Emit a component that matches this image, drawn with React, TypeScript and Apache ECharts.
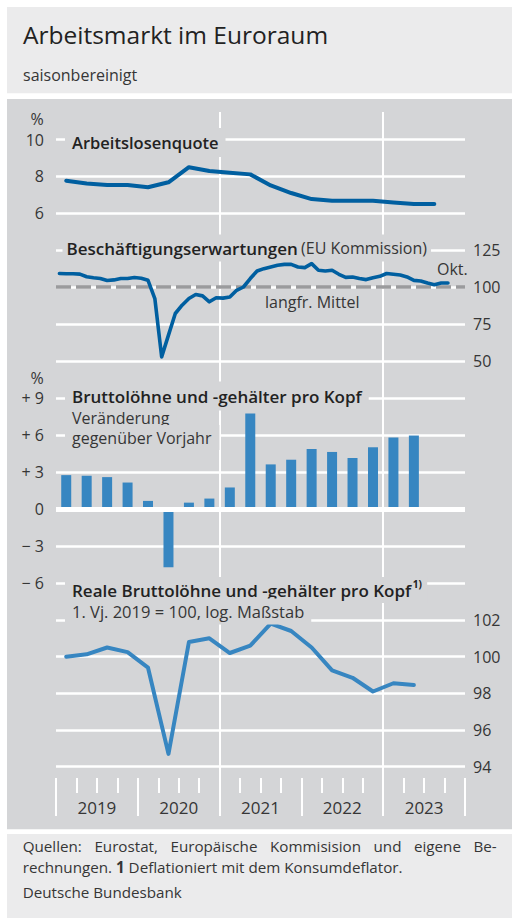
import React, { useEffect, useRef } from "react";
import * as echarts from "echarts";

// ---------- data ----------
const years = ["2019", "2020", "2021", "2022", "2023"];
// quarterly, Q1 2019 .. Q3 2023 (%)
const unemploymentRate = [7.77, 7.62, 7.53, 7.53, 7.41, 7.68, 8.5, 8.29, 8.2, 8.11, 7.51, 7.1, 6.77, 6.68, 6.68, 6.68, 6.59, 6.5, 6.5];
// monthly, Jan 2019 .. Oct 2023 (index, long-term mean = 100)
const employmentExpectations = [
  109.1, 109.0, 109.0, 108.7, 106.9, 106.2, 105.7, 104.4, 104.8, 105.7, 105.7, 106.4,
  105.9, 104.5, 92.2, 52.8, 67.5, 82.1, 87.7, 92.2, 94.9, 94.0, 90.0, 92.7,
  92.5, 93.2, 97.8, 100.0, 105.7, 110.8, 112.4, 113.5, 114.7, 115.3, 115.3, 113.5,
  113.1, 115.8, 111.3, 110.8, 111.3, 108.6, 106.5, 106.8, 105.7, 105.0, 106.3, 107.2,
  109.1, 108.6, 108.1, 106.8, 104.5, 104.1, 102.7, 101.6, 102.7, 102.7,
];
const longTermMean = 100;
// quarterly, Q1 2019 .. Q2 2023, change on previous year (%)
const wageGrowth = [2.77, 2.72, 2.61, 2.17, 0.68, -4.7, 0.54, 0.87, 1.77, 7.77, 3.64, 4.02, 4.89, 4.65, 4.16, 5.03, 5.82, 5.98];
// quarterly, Q1 2019 .. Q2 2023, Q1 2019 = 100
const realWages = [100.0, 100.13, 100.5, 100.25, 99.4, 94.7, 100.8, 101.0, 100.2, 100.6, 101.8, 101.4, 100.5, 99.25, 98.85, 98.1, 98.55, 98.45];
// months since Jan 2019 where vertical guide lines are drawn
const guideMonths = [24, 48];

// axis ranges [min, max, interval]
const unemploymentAxis = [6, 10, 2];
const expectationsAxis = [50, 125, 25];
const wageGrowthAxis = [-6, 9, 3];
const realWagesAxis = [94, 102, 2];

const sourceLine1 = ["Quellen:", "Eurostat,", "Europäische", "Kommisision", "und", "eigene", "Be-"];

// ---------- style ----------
const FONT = "'Open Sans', 'Noto Sans', sans-serif";
const TEXT = "#363636";
const DARK = "#222222";
const PANEL = "#d4d5d7";
const LIGHT = "#ebebec";
const DARK_BLUE = "#005fa0";
const MID_BLUE = "#3786c1";
const WHITE = "#ffffff";

const LEFT = 56;
const WIDTH = 409;
const FOOT_SIZE = 15.2;

const quarterX = (i: number) => 3 * i + 1.5;
const monthX = (i: number) => i + 0.5;

const tickLabel = { fontFamily: FONT, fontSize: 16, color: TEXT };

function measure(t: string, size: number, weight: any = "normal") {
  try {
    const el = new (echarts.graphic as any).Text({
      style: { text: t, fontFamily: FONT, fontSize: size, fontWeight: weight },
    });
    const w = el.getBoundingRect().width;
    if (w > 0) return w;
  } catch (e) {
    /* ignore */
  }
  return t.length * size * 0.52;
}

function buildOption() {
  const grids = [
    { left: LEFT, width: WIDTH, top: 139.5, height: 73.8 },
    { left: LEFT, width: WIDTH, top: 250, height: 111 },
    { left: LEFT, width: WIDTH, top: 398.3, height: 185 },
    { left: LEFT, width: WIDTH, top: 620, height: 146.7 },
    { left: LEFT, width: WIDTH, top: 112, height: 666 },
    { left: LEFT, width: WIDTH, top: 777, height: 1 },
    { left: LEFT, width: WIDTH, top: 777, height: 1 },
  ];

  const hiddenX = (g: number) => ({ type: "value", gridIndex: g, min: 0, max: 60, show: false });

  const valueY = (g: number, r: number[], position: string, margin: number, formatter?: any) => ({
    type: "value",
    gridIndex: g,
    min: r[0],
    max: r[1],
    interval: r[2],
    position,
    axisLine: { show: false },
    axisTick: { show: false },
    axisLabel: { ...tickLabel, margin, formatter },
    splitLine: { show: true, lineStyle: { color: WHITE, width: 2.5 } },
  });

  const signed = (v: number) => (v > 0 ? "+ " + v : v < 0 ? "\u2212 " + -v : "0");

  const text = (x: number, y: number, t: string, extra: any = {}) => ({
    type: "text",
    x,
    y,
    z: 50,
    style: {
      text: t,
      fontFamily: FONT,
      fontSize: 16,
      fill: TEXT,
      verticalAlign: "middle",
      ...extra,
    },
  });

  const masked = { backgroundColor: PANEL, padding: [6, 7] };

  // justified first footer line
  const jLeft = 22.7;
  const jRight = 496.7;
  const widths = sourceLine1.map((w) => measure(w, FOOT_SIZE));
  const total = widths.reduce((a, b) => a + b, 0);
  const gap = (jRight - jLeft - total) / (sourceLine1.length - 1);
  let cursor = jLeft;
  const line1 = sourceLine1.map((w, i) => {
    const el = text(cursor, 845.8, w, { fontSize: FOOT_SIZE, lineHeight: 16 });
    cursor += widths[i] + gap;
    return el;
  });

  const realTitle = "Reale Bruttolöhne und -gehälter pro Kopf";
  const realTitleSize = 17;
  const realTitleEnd = 72 + measure(realTitle, realTitleSize, 600);

  return {
    animation: false,
    backgroundColor: "#ffffff",
    textStyle: { fontFamily: FONT },
    grid: grids,
    xAxis: [
      hiddenX(0),
      hiddenX(1),
      hiddenX(2),
      hiddenX(3),
      hiddenX(4),
      {
        type: "category",
        gridIndex: 5,
        data: years,
        boundaryGap: true,
        axisLine: { show: false },
        axisTick: { show: true, interval: 0, length: 38, lineStyle: { color: WHITE, width: 2 } },
        axisLabel: { ...tickLabel, fontSize: 17, margin: 21, interval: 0 },
        splitLine: { show: false },
      },
      {
        type: "value",
        gridIndex: 6,
        min: 0,
        max: 60,
        interval: 3,
        axisLine: { show: false },
        axisTick: { show: true, length: 15, lineStyle: { color: WHITE, width: 2 } },
        axisLabel: { show: false },
        splitLine: { show: false },
      },
    ],
    yAxis: [
      valueY(0, unemploymentAxis, "left", 12),
      valueY(1, expectationsAxis, "right", 8),
      valueY(2, wageGrowthAxis, "left", 12, signed),
      valueY(3, realWagesAxis, "right", 8),
      { type: "value", gridIndex: 4, min: 0, max: 1, show: false },
      { type: "value", gridIndex: 5, show: false },
      { type: "value", gridIndex: 6, show: false },
    ],
    series: [
      {
        type: "line",
        xAxisIndex: 4,
        yAxisIndex: 4,
        data: [],
        silent: true,
        z: 1,
        markLine: {
          z: 1,
          silent: true,
          symbol: "none",
          label: { show: false },
          lineStyle: { color: WHITE, width: 2, type: "solid" },
          data: guideMonths.map((m) => ({ xAxis: m })),
        },
      },
      {
        type: "line",
        name: "Arbeitslosenquote",
        xAxisIndex: 0,
        yAxisIndex: 0,
        z: 3,
        showSymbol: false,
        data: unemploymentRate.map((v, i) => [quarterX(i), v]),
        lineStyle: { color: DARK_BLUE, width: 4, cap: "round", join: "round" },
      },
      {
        type: "line",
        name: "Beschäftigungserwartungen",
        xAxisIndex: 1,
        yAxisIndex: 1,
        z: 3,
        showSymbol: false,
        data: employmentExpectations.map((v, i) => [monthX(i), v]),
        lineStyle: { color: DARK_BLUE, width: 3.6, cap: "round", join: "round" },
        markLine: {
          z: 2,
          silent: true,
          symbol: "none",
          label: { show: false },
          lineStyle: { color: "#9a9b9d", width: 3.5, type: [15, 5] },
          data: [{ yAxis: longTermMean }],
        },
      },
      {
        type: "bar",
        name: "Bruttolöhne",
        xAxisIndex: 2,
        yAxisIndex: 2,
        barWidth: 10,
        z: 3,
        data: wageGrowth.map((v, i) => [quarterX(i), v]),
        itemStyle: { color: MID_BLUE },
        markLine: {
          z: 5,
          silent: true,
          symbol: "none",
          label: { show: false },
          lineStyle: { color: WHITE, width: 5, type: "solid" },
          data: [{ yAxis: 0 }],
        },
      },
      {
        type: "line",
        name: "Reale Bruttolöhne",
        xAxisIndex: 3,
        yAxisIndex: 3,
        z: 3,
        showSymbol: false,
        data: realWages.map((v, i) => [quarterX(i), v]),
        lineStyle: { color: MID_BLUE, width: 4, cap: "round", join: "round" },
      },
    ],
    graphic: [
      { type: "rect", z: -10, silent: true, shape: { x: 7, y: 7, width: 505, height: 86.3 }, style: { fill: LIGHT } },
      { type: "rect", z: -10, silent: true, shape: { x: 7, y: 99, width: 505, height: 730.3 }, style: { fill: PANEL } },
      { type: "rect", z: -10, silent: true, shape: { x: 7, y: 834, width: 505, height: 84 }, style: { fill: LIGHT } },

      text(23, 34, "Arbeitsmarkt im Euroraum", { fontSize: 24.5, fill: DARK }),
      text(23, 75, "saisonbereinigt", { fontSize: 16, fill: TEXT }),

      text(37, 118.5, "%", { align: "center" }),
      text(65, 142.5, "Arbeitslosenquote", { ...masked, fontWeight: 600, fontSize: 16.5, fill: DARK }),

      {
        type: "text",
        x: 62.5,
        y: 248,
        z: 50,
        style: {
          text: "{b|Beschäftigungserwartungen} {r|(EU Kommission)}",
          verticalAlign: "middle",
          backgroundColor: PANEL,
          padding: [5, 4],
          rich: {
            b: { fontFamily: FONT, fontSize: 17, fontWeight: 600, fill: DARK, color: DARK },
            r: { fontFamily: FONT, fontSize: 16, fill: TEXT, color: TEXT },
          },
        },
      },
      text(265, 302, "langfr. Mittel"),
      text(437, 269, "Okt."),

      text(37, 378, "%", { align: "center" }),
      text(65, 396, "Bruttolöhne und -gehälter pro Kopf", { ...masked, fontWeight: 600, fontSize: 17, fill: DARK }),
      text(65, 417.5, "Veränderung", { ...masked, padding: [3, 7] }),
      text(65, 437.5, "gegenüber Vorjahr", { ...masked, padding: [3, 8, 6, 7] }),

      text(65, 590, realTitle, { ...masked, padding: [7, 16, 2, 7], fontWeight: 600, fontSize: realTitleSize, fill: DARK }),
      text(realTitleEnd + 1.5, 584, "1)", { fontWeight: 700, fontSize: 10, fill: DARK, z: 60 }),
      text(65, 611.5, "1. Vj. 2019 = 100, log. Maßstab", { ...masked, fontSize: 16.5, padding: [2, 7, 7, 7] }),

      // footer
      ...line1,
      {
        type: "text",
        x: 22.7,
        y: 866.6,
        z: 50,
        style: {
          text: "{r|rechnungen. }{b|1}{r| Deflationiert mit dem Konsumdeflator.}",
          verticalAlign: "middle",
          rich: {
            r: { fontFamily: FONT, fontSize: FOOT_SIZE, fill: TEXT, color: TEXT, lineHeight: 16 },
            b: { fontFamily: FONT, fontSize: FOOT_SIZE, fontWeight: 700, fill: TEXT, color: TEXT, lineHeight: 16 },
          },
        },
      },
      text(22.7, 891.5, "Deutsche Bundesbank", { fontSize: FOOT_SIZE, lineHeight: 16 }),
    ],
  };
}

export default function App() {
  const ref = useRef<HTMLDivElement>(null);
  useEffect(() => {
    if (!ref.current) return;
    const chart = echarts.init(ref.current, null, { renderer: "svg" });
    chart.setOption(buildOption() as any);
    return () => chart.dispose();
  }, []);
  return <div ref={ref} style={{ position: "absolute", left: 0, top: 0, width: 512, height: 918 }} />;
}
